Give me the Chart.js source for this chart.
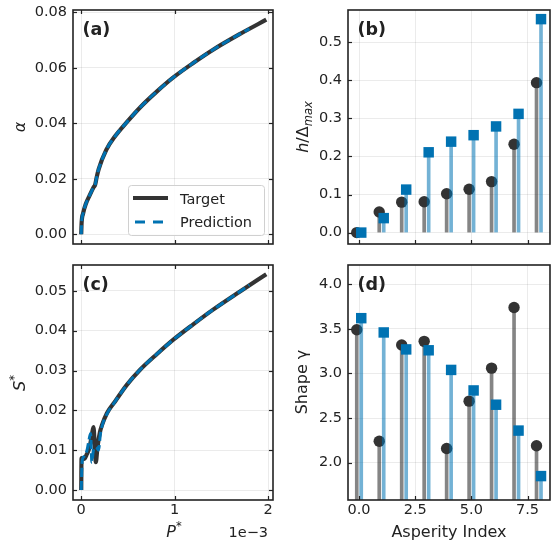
<!DOCTYPE html>
<html><head><meta charset="utf-8">
<script src="https://cdn.jsdelivr.net/npm/chart.js@4.4.1/dist/chart.umd.min.js"></script>
<style>
html,body{margin:0;padding:0;background:#fff;}
#wrap{position:relative;width:557px;height:547px;overflow:hidden;background:#fff;}
canvas{position:absolute;left:0;top:0;}
</style></head><body>
<div id="wrap">
<canvas id="ca" width="557" height="547"></canvas>
<canvas id="cb" width="557" height="547"></canvas>
<canvas id="cc" width="557" height="547"></canvas>
<canvas id="cd" width="557" height="547"></canvas>
</div>
<script>
// ---------- data (P* in units of 1e-3) ----------
const P_A_TARGET = [0, 0.004, 0.02, 0.05, 0.09, 0.13, 0.15, 0.165, 0.187, 0.268, 0.364, 0.488, 0.63, 0.808, 0.989, 1.198, 1.411, 1.695, 1.98];
const ALPHA_TARGET = [0, 0.0040, 0.0075, 0.0110, 0.0140, 0.0168, 0.0180, 0.0205, 0.0235, 0.0304, 0.0354, 0.0404, 0.0457, 0.0514, 0.0566, 0.0617, 0.0665, 0.0721, 0.0773];
const P_A_PRED = [0, 0.004, 0.02, 0.05, 0.09, 0.13, 0.15, 0.165, 0.187, 0.268, 0.364, 0.488, 0.63, 0.808, 0.989, 1.198, 1.411, 1.695, 1.80];
const ALPHA_PRED = [0, 0.0040, 0.0075, 0.0110, 0.0140, 0.0168, 0.0180, 0.0205, 0.0235, 0.0304, 0.0354, 0.0404, 0.0457, 0.0514, 0.0566, 0.0617, 0.0665, 0.0721, 0.0740];

const P_C_TARGET = [0, 0.003, 0.03, 0.06, 0.09, 0.115, 0.131, 0.145, 0.156, 0.175, 0.20, 0.222, 0.275, 0.364, 0.488, 0.63, 0.808, 0.989, 1.198, 1.411, 1.695, 1.98];
const S_TARGET = [0, 0.0080, 0.0078, 0.0090, 0.0108, 0.0140, 0.0158, 0.0110, 0.0070, 0.0110, 0.0145, 0.0163, 0.0193, 0.0223, 0.0264, 0.0302, 0.0341, 0.0378, 0.0416, 0.0453, 0.0498, 0.0542];
const P_C_PRED = [0, 0.01, 0.03, 0.06, 0.085, 0.100, 0.114, 0.13, 0.16, 0.185, 0.205, 0.222, 0.275, 0.364, 0.488, 0.63, 0.808, 0.989, 1.198, 1.411, 1.695, 1.80];
const S_PRED = [0, 0.0072, 0.0084, 0.0098, 0.0128, 0.0142, 0.0070, 0.0100, 0.0108, 0.0100, 0.0140, 0.0160, 0.0191, 0.0223, 0.0264, 0.0302, 0.0341, 0.0378, 0.0416, 0.0453, 0.0498, 0.0515];

const ASPERITY_INDEX = [0, 1, 2, 3, 4, 5, 6, 7, 8];
const H_TARGET = [0.000, 0.054, 0.080, 0.081, 0.102, 0.114, 0.134, 0.232, 0.394];
const H_PRED   = [0.000, 0.038, 0.113, 0.211, 0.239, 0.256, 0.279, 0.312, 0.561];
const GAMMA_TARGET = [3.49, 2.24, 3.32, 3.36, 2.16, 2.69, 3.06, 3.74, 2.19];
const GAMMA_PRED   = [3.62, 3.46, 3.27, 3.26, 3.04, 2.81, 2.65, 2.36, 1.85];

// ticks
const P_TICKS = [0, 1, 2];
const ALPHA_TICKS = [0, 0.02, 0.04, 0.06, 0.08];
const S_TICKS = [0, 0.01, 0.02, 0.03, 0.04, 0.05];
const IDX_TICKS = [0, 2.5, 5, 7.5];
const H_TICKS = [0, 0.1, 0.2, 0.3, 0.4, 0.5];
const GAMMA_TICKS = [2.0, 2.5, 3.0, 3.5, 4.0];

// ---------- styling ----------
const DARK = '#333333', BLUE = '#0072B2';
const GREY_STEM = 'rgba(51,51,51,0.6)', BLUE_STEM = 'rgba(0,114,178,0.55)';
const GRID = 'rgba(0,0,0,0.08)';
const FONT = "'DejaVu Sans'";
Chart.defaults.font.family = FONT + ", sans-serif";
Chart.defaults.font.size = 14.5;
Chart.defaults.color = '#222';

function drawRich(ctx, segs, x, y, align, rot) {
  ctx.save();
  ctx.translate(x, y);
  if (rot) ctx.rotate(-Math.PI / 2);
  ctx.textBaseline = 'alphabetic';
  ctx.textAlign = 'left';
  let w = 0;
  const fonts = segs.map(s => `${s.it ? 'italic ' : ''}${s.bold ? 'bold ' : ''}${s.size || 16}px ${FONT}`);
  segs.forEach((s, i) => { ctx.font = fonts[i]; s._w = ctx.measureText(s.t).width; w += s._w + (s.gap || 0); });
  let cx = align === 'center' ? -w / 2 : align === 'right' ? -w : 0;
  segs.forEach((s, i) => { ctx.font = fonts[i]; ctx.fillStyle = '#222'; ctx.fillText(s.t, cx, s.dy || 0); cx += s._w + (s.gap || 0); });
  ctx.restore();
}

function decor(o) {
  return {
    id: 'decor',
    afterDraw(chart) {
      const ctx = chart.ctx, a = chart.chartArea, xs = chart.scales.x, ys = chart.scales.y;
      ctx.save();
      ctx.strokeStyle = '#222'; ctx.lineWidth = 1.2;
      const ln = (x1, y1, x2, y2) => { ctx.beginPath(); ctx.moveTo(x1, y1); ctx.lineTo(x2, y2); ctx.stroke(); };
      xs.ticks.forEach(t => {
        const p = Math.round(xs.getPixelForValue(t.value)) + 0.5;
        ln(p, a.bottom, p, a.bottom - 4);
        if (o.allSides) ln(p, a.top, p, a.top + 4);
      });
      ys.ticks.forEach(t => {
        const p = Math.round(ys.getPixelForValue(t.value)) + 0.5;
        ln(a.left, p, a.left + 4, p);
        if (o.allSides) ln(a.right, p, a.right - 4, p);
      });
      ctx.lineWidth = 1.6; ctx.strokeStyle = '#222';
      ctx.strokeRect(a.left, a.top, a.right - a.left, a.bottom - a.top);
      drawRich(ctx, [{ t: o.letter, bold: true, size: 17.5 }], a.left + 9.5, a.top + 24.5, 'left', false);
      if (o.extra) o.extra(ctx, chart);
      ctx.restore();
    }
  };
}

function axisCfg(min, max, ticks, fmt, showLabels, size, isX) {
  return {
    type: 'linear', min, max, offset: false,
    grid: { color: GRID, lineWidth: 1, drawTicks: false, offset: false },
    border: { display: false },
    ticks: { display: showLabels, padding: isX ? 2 : 6, autoSkip: false, maxRotation: 0,
             font: { size: 14.5 }, color: '#222', callback: fmt },
    afterBuildTicks: s => { s.ticks = ticks.map(v => ({ value: v })); },
    afterFit: s => {
      if (isX) s.height = size; else s.width = size;
      s.paddingLeft = s.paddingRight = s.paddingTop = s.paddingBottom = 0;
    }
  };
}

function baseOpts(pad, xAxis, yAxis) {
  return {
    responsive: false, animation: false, devicePixelRatio: 1,
    layout: { padding: pad, autoPadding: false },
    plugins: { legend: { display: false }, tooltip: { enabled: false } },
    scales: { x: xAxis, y: yAxis }
  };
}

const pts = (xs, ys) => xs.map((x, i) => ({ x, y: ys[i] }));
function lineSets(px1, y1, px2, y2) {
  return [
    { type: 'scatter', showLine: true, data: pts(px1, y1), borderColor: DARK, borderWidth: 4.2, pointRadius: 0,
      cubicInterpolationMode: 'monotone', order: 1, fill: false },
    { type: 'scatter', showLine: true, data: pts(px2, y2), borderColor: BLUE, borderWidth: 3, borderDash: [9, 4],
      pointRadius: 0, cubicInterpolationMode: 'monotone', order: 0, fill: false }
  ];
}
function stemSets(vT, vP, base) {
  return [
    { type: 'bar', data: ASPERITY_INDEX.map((i, k) => ({ x: i - 0.1, y: [base, vT[k]] })), backgroundColor: GREY_STEM,
      barThickness: 3, grouped: false, order: 3 },
    { type: 'scatter', data: ASPERITY_INDEX.map((i, k) => ({ x: i - 0.1, y: vT[k] })), pointStyle: 'circle',
      pointRadius: 5.7, backgroundColor: DARK, borderWidth: 0, order: 2 },
    { type: 'bar', data: ASPERITY_INDEX.map((i, k) => ({ x: i + 0.1, y: [base, vP[k]] })), backgroundColor: BLUE_STEM,
      barThickness: 3, grouped: false, order: 1 },
    { type: 'scatter', data: ASPERITY_INDEX.map((i, k) => ({ x: i + 0.1, y: vP[k] })), pointStyle: 'rect',
      pointRadius: 7.4, backgroundColor: BLUE, borderWidth: 0, order: 0 }
  ];
}

const fmtP = v => String(v);
const fmt2 = v => Number(v).toFixed(2);
const fmt1 = v => Number(v).toFixed(1);

// (a)
new Chart(document.getElementById('ca'), {
  type: 'scatter',
  data: { datasets: lineSets(P_A_TARGET, ALPHA_TARGET, P_A_PRED, ALPHA_PRED) },
  options: baseOpts({ left: 0, top: 10, right: 284, bottom: 303 },
    axisCfg(-0.088, 2.052, P_TICKS, fmtP, false, 0, true),
    axisCfg(-0.0035, 0.0808, ALPHA_TICKS, fmt2, true, 73, false)),
  plugins: [decor({ letter: '(a)', allSides: true, extra: (ctx) => {
    drawRich(ctx, [{ t: 'α', it: true }], 25, 127, 'center', true);
    // legend
    ctx.save();
    ctx.beginPath();
    if (ctx.roundRect) ctx.roundRect(128.5, 185.5, 136, 50, 3); else ctx.rect(128.5, 185.5, 136, 50);
    ctx.fillStyle = 'rgba(255,255,255,0.85)'; ctx.fill();
    ctx.strokeStyle = '#d0d0d0'; ctx.lineWidth = 1; ctx.stroke();
    ctx.lineWidth = 4; ctx.strokeStyle = DARK;
    ctx.beginPath(); ctx.moveTo(133, 198); ctx.lineTo(168, 198); ctx.stroke();
    ctx.lineWidth = 3; ctx.strokeStyle = BLUE; ctx.setLineDash([10, 8]);
    ctx.beginPath(); ctx.moveTo(135, 222); ctx.lineTo(165, 222); ctx.stroke();
    ctx.setLineDash([]);
    ctx.restore();
    drawRich(ctx, [{ t: 'Target', size: 14.5 }], 180, 203.5, 'left', false);
    drawRich(ctx, [{ t: 'Prediction', size: 14.5 }], 180, 227, 'left', false);
  } })]
});

// (b)
new Chart(document.getElementById('cb'), {
  type: 'scatter',
  data: { datasets: stemSets(H_TARGET, H_PRED, 0) },
  options: baseOpts({ left: 278, top: 10, right: 7, bottom: 303 },
    axisCfg(-0.49, 8.5, IDX_TICKS, fmt1, false, 0, true),
    axisCfg(-0.030, 0.585, H_TICKS, fmt1, true, 70, false)),
  plugins: [decor({ letter: '(b)', allSides: false, extra: (ctx) => {
    drawRich(ctx, [{ t: 'h', it: true }, { t: '/' }, { t: 'Δ' }, { t: 'max', it: true, size: 11.5, dy: 3.5 }], 308, 127, 'center', true);
  } })]
});

// (c)
new Chart(document.getElementById('cc'), {
  type: 'scatter',
  data: { datasets: lineSets(P_C_TARGET, S_TARGET, P_C_PRED, S_PRED) },
  options: baseOpts({ left: 0, top: 265, right: 284, bottom: 0 },
    axisCfg(-0.088, 2.052, P_TICKS, fmtP, true, 47, true),
    axisCfg(-0.0025, 0.0565, S_TICKS, fmt2, true, 73, false)),
  plugins: [decor({ letter: '(c)', allSides: true, extra: (ctx) => {
    drawRich(ctx, [{ t: 'S', it: true }, { t: '*', size: 11.5, dy: -7 }], 25, 383, 'center', true);
    drawRich(ctx, [{ t: 'P', it: true }, { t: '*', size: 11.5, dy: -7 }], 174, 537, 'center', false);
    drawRich(ctx, [{ t: '1e−3', size: 14.5 }], 268, 537, 'right', false);
  } })]
});

// (d)
new Chart(document.getElementById('cd'), {
  type: 'scatter',
  data: { datasets: stemSets(GAMMA_TARGET, GAMMA_PRED, 1.5) },
  options: baseOpts({ left: 278, top: 265, right: 7, bottom: 0 },
    axisCfg(-0.49, 8.5, IDX_TICKS, fmt1, true, 47, true),
    axisCfg(1.582, 4.216, GAMMA_TICKS, fmt1, true, 70, false)),
  plugins: [decor({ letter: '(d)', allSides: false, extra: (ctx) => {
    drawRich(ctx, [{ t: 'Shape γ' }], 307, 382, 'center', true);
    drawRich(ctx, [{ t: 'Asperity Index' }], 449, 537, 'center', false);
  } })]
});
</script>
</body></html>
